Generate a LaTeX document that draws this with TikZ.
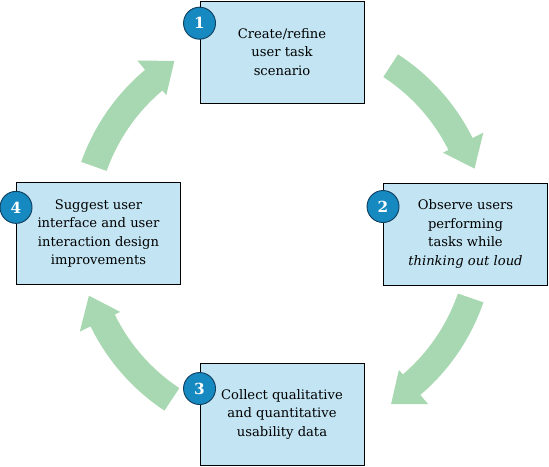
\documentclass[tikz,border=0pt]{standalone}
\usepackage{fontspec}
\setmainfont{DejaVu Serif}
\usepackage{tikz}
\usetikzlibrary{shapes.geometric, arrows}
\definecolor{boxblue}{RGB}{194,228,243}
\definecolor{badgeblue}{RGB}{22,137,192}
\definecolor{badgeline}{RGB}{16,64,96}
\definecolor{cyclegreen}{RGB}{168,216,177}
\tikzstyle{process} = [rectangle, minimum width=4.92cm, minimum height=3.06cm, text centered, align=center, draw=black, line width=0.8pt, fill=boxblue, font=\fontsize{11.2}{15.8}\selectfont]
\tikzstyle{badge} = [circle, minimum size=0.96cm, inner sep=0pt, draw=badgeline, line width=0.8pt, fill=badgeblue, text=white, font=\fontsize{13}{13}\selectfont\bfseries]
\tikzstyle{cyclearrow} = [fill=cyclegreen, draw=none]

\begin{document}
\begin{tikzpicture}[x=0.03cm, y=0.03cm]
        \useasboundingbox (0,0) rectangle (549,466);
        \coordinate (centre) at (282,233);

        % Cycle arrows round the centre
        \foreach \t in {57,-19,236.5,160.5}{
            \fill [cyclearrow, shift={(centre)}] (\t:213) arc [start angle=\t, end angle=\t-30.5, radius=213] -- (\t-30.5:225) -- (\t-38.5:203) -- (\t-30.5:180) -- (\t-30.5:186) arc [start angle=\t-30.5, end angle=\t, radius=186] -- cycle;
        }

        % Steps
        \node (scenario) [process] at (282,414) {Create/refine\\user task\\scenario};
        \node (observe) [process] at (465.5,232) {Observe users\\performing\\tasks while\\\textit{thinking out loud}};
        \node (collect) [process] at (282,52) {Collect qualitative\\and quantitative\\usability data};
        \node (suggest) [process] at (98.5,232.5) {Suggest user\\interface and user\\interaction design\\improvements};

        % Step numbers
        \node (num1) [badge] at ([yshift=-0.68cm]scenario.north west) {1};
        \node (num2) [badge] at ([yshift=-0.72cm]observe.north west) {2};
        \node (num3) [badge] at ([yshift=-0.78cm]collect.north west) {3};
        \node (num4) [badge] at ([yshift=-0.76cm]suggest.north west) {4};
    \end{tikzpicture}
\end{document}
